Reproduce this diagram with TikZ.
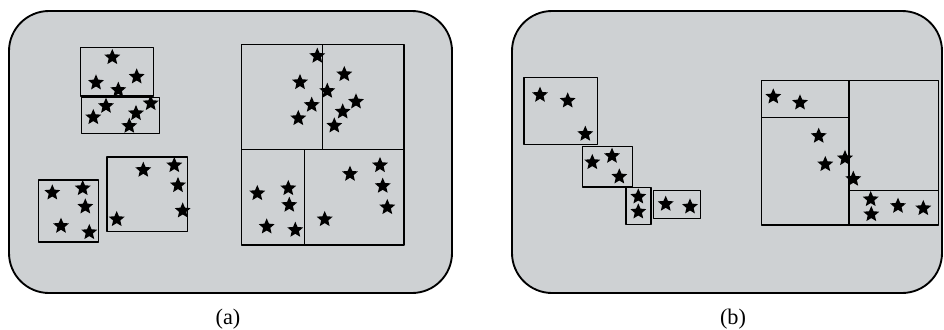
\documentclass[tikz,border=0pt]{standalone}
\usepackage{fontspec}
\setmainfont{Liberation Serif}
\usetikzlibrary{shapes.geometric}
\definecolor{gris}{RGB}{206,209,211}
\tikzset{
  estrella/.style={star, star points=5, star point ratio=2.2, fill=black,
    inner sep=0pt, minimum size=0.5cm},
  caja/.style={line width=0.9pt},
  panel/.style={fill=gris, line width=1.6pt, rounded corners=1.2cm}
}
\begin{document}
\begin{tikzpicture}[x=0.03cm, y=-0.03cm, line join=round]
  \useasboundingbox (0,0) rectangle (944,329);
  % los dos paneles grises
  \filldraw[panel] (9,11) rectangle (452,293);
  \filldraw[panel] (512,11) rectangle (942,293);
  % (a): las cajas sueltas de la izquierda
  \draw[caja] (80.7,47.7) rectangle (153.3,96);
  \draw[caja] (81.3,97.7) rectangle (159.3,133.7);
  \draw[caja] (38.3,180) rectangle (98.7,242);
  \draw[caja] (107,157) rectangle (187.3,231.3);
  % (a): la caja grande, partida en cuatro
  \draw[caja] (241.7,44.3) rectangle (404,245);
  \draw[caja] (241.7,149.3) -- (404,149.3);
  \draw[caja] (322.7,44.3) -- (322.7,149.3);
  \draw[caja] (304.3,149.3) -- (304.3,245);
  % (a): las estrellas
  \foreach \x/\y [count=\i] in {112.3/57.3, 96/82.7, 136.7/76.7, 118.3/90,
      106/106, 93.3/117.3, 136/113.3, 150.7/103.3, 129.3/126,
      52.3/192.7, 82.7/188.3, 85.3/206.7, 61/226, 89.3/232.3,
      143.3/170, 174.3/165.3, 178/185.3, 182.7/210.7, 116.7/219.3,
      317.3/56, 300/82.3, 344.3/74.3, 327.3/91, 311.7/105, 356/101.7,
      342.7/111.7, 298.3/118.3, 334.3/125.7,
      257.3/193.3, 288.3/188.3, 289.3/205, 266.7/226.7, 295.3/230,
      350/174, 380/165.3, 382.7/186, 387.3/207.3, 324.7/219.3} {
    \node[estrella] (ea\i) at (\x,\y) {};
  }
  % (b): la escalera de cajas
  \draw[caja] (524,77.3) rectangle (597.7,144.7);
  \draw[caja] (582.7,146.7) rectangle (632.3,187);
  \draw[caja] (626,187.7) rectangle (651,224.3);
  \draw[caja] (653.7,190.7) rectangle (700.7,218.3);
  % (b): la caja grande de la derecha
  \draw[caja] (761.7,80.7) rectangle (938.7,225);
  \draw[caja] (849,80.7) -- (849,225);
  \draw[caja] (761.7,117.3) -- (849,117.3);
  \draw[caja] (849,190.3) -- (938.7,190.3);
  % (b): las estrellas
  \foreach \x/\y [count=\i] in {540/95, 567.7/100.7, 585.3/134,
      592.3/162.3, 612/156, 619.3/176.7, 638.3/196.7, 638.3/211.7,
      665.7/204, 690/206.7,
      773.3/96.7, 800/102.7, 818.7/136, 825.3/164.3, 845/158.3,
      853.3/179, 870.7/199.3, 871.3/214.3, 898/206, 923.3/208.3} {
    \node[estrella] (eb\i) at (\x,\y) {};
  }
  % los rotulos
  \node[font=\fontsize{19}{22}\selectfont, inner sep=0pt] (rota) at (228,319.5) {(a)};
  \node[font=\fontsize{19}{22}\selectfont, inner sep=0pt] (rotb) at (733,319.5) {(b)};
\end{tikzpicture}
\end{document}
